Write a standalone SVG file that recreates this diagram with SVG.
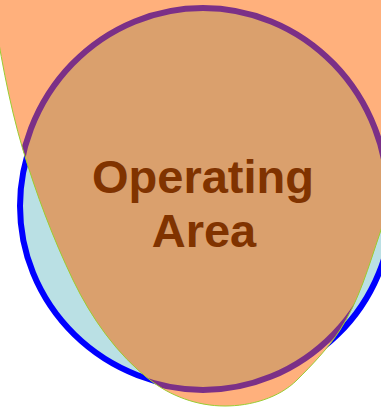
<svg xmlns="http://www.w3.org/2000/svg" xmlns:xlink="http://www.w3.org/1999/xlink" width="381" height="407" viewBox="0 0 381 407">
<style>
.label{font-family:"Liberation Sans",Arial,sans-serif;font-weight:bold;font-size:47px;fill:#803300;text-anchor:middle}
</style>
<defs>
<path id="egg" d="M -8,0 C -0.5,50 8.4,101 23,150 C 36.2,194 53.1,238.6 73,280 C 91.2,317.8 116.8,354.3 150,380 C 170.1,395.6 196.5,406 225,406 C 250.5,406 279,398 297,380 C 312.6,364.4 328,348.4 340,330 C 359.1,300.7 368.7,266.1 380,233 C 399,176 410,100 420,-10 L -10,-10 Z"/>
<clipPath id="eggClip"><use xlink:href="#egg"/></clipPath>
</defs>
<g id="range">
<ellipse cx="206" cy="206" rx="186" ry="182" fill="#BAE0E4" stroke="#0000FF" stroke-width="6"/>
</g>
<g id="envelope">
<use xlink:href="#egg" fill="#FFB07C"/>
</g>
<g id="operating-area" clip-path="url(#eggClip)">
<ellipse cx="203" cy="199" rx="185" ry="191" fill="#DAA06D" stroke="#7B3087" stroke-width="6"/>
</g>
<g id="envelope-outline">
<use xlink:href="#egg" fill="none" stroke="#9ACD32" stroke-width="1"/>
</g>
<g id="connectors"/>
<g id="label">
<text class="label" x="203" y="193">Operating</text>
<text class="label" x="204" y="247">Area</text>
</g>
</svg>
